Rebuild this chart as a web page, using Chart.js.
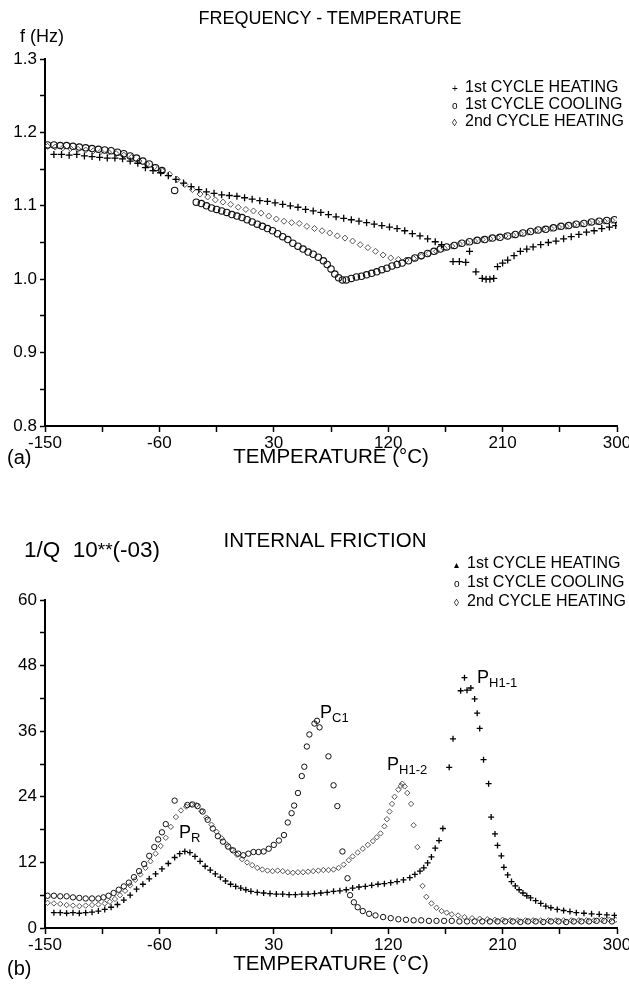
<!DOCTYPE html>
<html>
<head>
<meta charset="utf-8">
<script src="https://cdn.jsdelivr.net/npm/chart.js@4.4.1/dist/chart.umd.min.js"></script>
<style>
  html, body { margin: 0; padding: 0; width: 629px; height: 984px; overflow: hidden; background: #fff; }
  body { position: relative; font-family: "Liberation Sans", Arial, sans-serif; color: #000; }
  canvas { position: absolute; left: 0; }
  .t { position: absolute; white-space: nowrap; line-height: 1; }
  .c { transform: translateX(-50%); }
  .lg div { height: 17px; line-height: 17px; }
  .lgb div { height: 19px; line-height: 19px; }
  .sym { display: inline-block; width: 13px; font-size: 10px; line-height: 1; }
  sub { font-size: 13px; vertical-align: -4px; }
</style>
</head>
<body>
<canvas id="freqChart" width="660" height="500" style="top:0"></canvas>
<canvas id="lossChart" width="660" height="484" style="top:500px"></canvas>

<div class="t c" style="left:330px;top:9px;font-size:18px">FREQUENCY - TEMPERATURE</div>
<div class="t" style="left:20px;top:27px;font-size:18px">f (Hz)</div>
<div class="t lg" id="legendA" style="left:452px;top:78px;font-size:16px"></div>
<div class="t" style="left:7px;top:447px;font-size:20px">(a)</div>
<div class="t c" style="left:331px;top:446px;font-size:20.5px">TEMPERATURE (°C)</div>

<div class="t c" style="left:325px;top:530px;font-size:20.5px">INTERNAL FRICTION</div>
<div class="t" style="left:24px;top:539px;font-size:22.5px">1/Q&nbsp; 10<span style="font-size:19px;vertical-align:1px">**</span>(-03)</div>
<div class="t lgb" id="legendB" style="left:454px;top:553px;font-size:16px"></div>
<div class="t" style="left:7px;top:958px;font-size:20px">(b)</div>
<div class="t c" style="left:331px;top:953px;font-size:20.5px">TEMPERATURE (°C)</div>

<div class="t" style="left:179px;top:823px;font-size:18px">P<sub>R</sub></div>
<div class="t" style="left:320px;top:703px;font-size:18px">P<sub>C1</sub></div>
<div class="t" style="left:387px;top:755px;font-size:18px">P<sub>H1-2</sub></div>
<div class="t" style="left:477px;top:668px;font-size:18px">P<sub>H1-1</sub></div>

<script>
// series names
const seriesNames = ["1st CYCLE HEATING", "1st CYCLE COOLING", "2nd CYCLE HEATING"];

// tick labels
const tempTickLabels = ["-150", "-60", "30", "120", "210", "300"];
const freqTickLabels = ["0.8", "0.9", "1.0", "1.1", "1.2", "1.3"];
const lossTickLabels = ["0", "12", "24", "36", "48", "60"];

// (a) frequency, [temperature °C, f Hz]
const heat1Freq = [
  [-143,1.170],[-137,1.170],[-131,1.169],[-125,1.170],[-119,1.168],[-113,1.167],[-107,1.166],[-101,1.165],
  [-95,1.165],[-89,1.164],[-83,1.161],[-77,1.158],[-71,1.152],[-65,1.148],[-59,1.145],[-53,1.141],
  [-47,1.136],[-41,1.131],[-35,1.126],[-29,1.122],[-23,1.119],[-17,1.117],[-11,1.115],[-5,1.114],
  [1,1.113],[7,1.111],[13,1.109],[19,1.107],[25,1.106],[31,1.104],[37,1.102],[43,1.100],
  [49,1.098],[55,1.095],[61,1.093],[67,1.091],[73,1.088],[79,1.085],[85,1.083],[91,1.081],
  [97,1.079],[103,1.077],[109,1.075],[115,1.073],[121,1.071],[127,1.069],[133,1.066],[139,1.062],
  [145,1.059],[151,1.055],[157,1.051],[162,1.047],[171,1.024],[176,1.024],[181,1.023],[184,1.038],
  [189,1.010],[194,1.001],[197,1.000],[200,1.000],[203,1.001],[206,1.017],[210,1.022],[214,1.026],
  [219,1.032],[224,1.038],[229,1.041],[234,1.044],[240,1.047],[246,1.050],[252,1.052],[258,1.055],
  [264,1.058],[270,1.061],[276,1.064],[282,1.066],[288,1.069],[294,1.071],[299,1.073]
];
const coolFreq = [
  [-148,1.183],[-143,1.183],[-138,1.182],[-133,1.182],[-128,1.181],[-123,1.180],[-118,1.179],[-113,1.178],
  [-108,1.177],[-103,1.176],[-98,1.175],[-93,1.173],[-88,1.171],[-83,1.168],[-78,1.165],[-73,1.161],
  [-68,1.157],[-63,1.152],[-58,1.148],[-48,1.121],[-31,1.105],[-27,1.103],[-23,1.100],[-19,1.097],
  [-15,1.095],[-11,1.093],[-7,1.091],[-3,1.088],[1,1.086],[5,1.084],[9,1.081],[13,1.078],
  [17,1.075],[21,1.072],[25,1.069],[29,1.066],[33,1.062],[37,1.058],[41,1.054],[45,1.049],
  [49,1.045],[53,1.041],[57,1.037],[61,1.034],[65,1.030],[69,1.025],[72,1.020],[75,1.014],
  [78,1.007],[81,1.002],[84,0.999],[87,0.999],[91,1.001],[95,1.003],[99,1.004],[103,1.006],
  [107,1.008],[111,1.010],[115,1.013],[119,1.015],[123,1.018],[127,1.020],[131,1.022],[136,1.025],
  [141,1.029],[146,1.032],[151,1.035],[156,1.038],[161,1.041],[166,1.044],[172,1.046],[178,1.049],
  [184,1.051],[190,1.053],[196,1.054],[202,1.056],[208,1.057],[214,1.059],[220,1.061],[226,1.063],
  [232,1.065],[238,1.067],[244,1.068],[250,1.070],[256,1.072],[262,1.073],[268,1.075],[274,1.076],
  [280,1.078],[286,1.079],[292,1.080],[298,1.081]
];
const heat2Freq = [
  [-148,1.181],[-142,1.180],[-136,1.179],[-130,1.178],[-124,1.177],[-118,1.176],[-112,1.175],[-106,1.174],
  [-100,1.173],[-94,1.171],[-88,1.169],[-82,1.166],[-76,1.161],[-70,1.157],[-64,1.153],[-58,1.148],
  [-52,1.143],[-46,1.136],[-40,1.129],[-34,1.122],[-28,1.116],[-22,1.112],[-16,1.108],[-10,1.105],
  [-4,1.102],[2,1.098],[8,1.095],[14,1.093],[20,1.090],[26,1.086],[32,1.082],[38,1.079],
  [44,1.077],[50,1.076],[56,1.072],[62,1.069],[68,1.066],[74,1.063],[80,1.059],[86,1.056],
  [92,1.052],[98,1.047],[104,1.043],[110,1.038],[116,1.033],[122,1.029],[128,1.027],[134,1.026],
  [140,1.028],[146,1.031],[152,1.035],[158,1.038],[164,1.042],[170,1.045],[176,1.048],[182,1.050],
  [188,1.052],[194,1.054],[200,1.055],[206,1.057],[212,1.059],[218,1.060],[224,1.062],[230,1.064],
  [236,1.066],[242,1.068],[248,1.069],[254,1.071],[260,1.072],[266,1.074],[272,1.075],[278,1.077],
  [284,1.078],[290,1.079],[296,1.080]
];

// (b) internal friction, [temperature °C, 1/Q x 10^-3]
const heat1Loss = [
  [-143,2.8],[-138,2.8],[-133,2.7],[-128,2.8],[-123,2.7],[-118,2.8],[-113,2.9],[-108,3.1],
  [-103,3.4],[-98,3.8],[-93,4.3],[-88,5.1],[-83,6.0],[-78,7.1],[-73,8.0],[-68,9.0],
  [-63,9.9],[-58,10.8],[-53,11.8],[-48,12.9],[-44,13.6],[-40,14.0],[-36,13.8],[-32,13.1],
  [-28,12.2],[-24,11.3],[-20,10.6],[-16,9.9],[-12,9.3],[-8,8.6],[-4,8.0],[0,7.6],
  [4,7.3],[8,7.0],[12,6.7],[17,6.5],[22,6.4],[27,6.3],[32,6.2],[37,6.2],
  [42,6.1],[47,6.1],[52,6.2],[57,6.2],[62,6.3],[67,6.4],[72,6.5],[77,6.7],
  [82,6.8],[87,7.0],[92,7.3],[97,7.5],[102,7.6],[107,7.8],[112,8.0],[117,8.1],
  [122,8.3],[127,8.5],[132,8.8],[137,9.2],[141,9.8],[145,10.4],[148,11.0],[151,11.9],
  [154,13.0],[157,14.6],[160,16.0],[163,18.2],[168,29.4],[171,34.6],[177,43.4],[180,45.8],
  [182,43.5],[185,43.9],[188,41.9],[190,39.3],[192,36.5],[195,30.8],[199,26.4],[201,20.3],
  [204,17.2],[206,15.1],[209,13.2],[211,11.1],[214,9.7],[217,8.5],[220,7.7],[223,7.0],
  [226,6.4],[229,5.9],[232,5.5],[236,5.0],[240,4.5],[244,4.0],[248,3.7],[253,3.4],
  [258,3.2],[263,3.0],[268,2.8],[274,2.7],[280,2.6],[286,2.5],[292,2.4],[298,2.3]
];
const coolLoss = [
  [-148,5.9],[-143,5.9],[-138,5.8],[-133,5.8],[-128,5.6],[-123,5.5],[-118,5.4],[-113,5.4],
  [-108,5.4],[-104,5.6],[-100,5.9],[-96,6.4],[-92,7.0],[-88,7.6],[-84,8.3],[-80,9.3],
  [-76,10.4],[-72,11.7],[-68,13.2],[-64,14.8],[-61,16.2],[-58,17.5],[-55,19.0],[-48,23.3],
  [-38,22.5],[-34,22.6],[-30,22.3],[-26,21.3],[-22,19.8],[-18,18.2],[-14,16.8],[-10,15.8],
  [-6,14.9],[-2,14.2],[2,13.6],[6,13.3],[10,13.6],[14,13.9],[18,13.9],[22,14.0],
  [26,14.5],[30,15.2],[34,16.0],[38,17.0],[41,19.3],[44,21.0],[46,22.4],[49,24.7],
  [52,27.8],[54,29.5],[56,33.2],[58,35.4],[62,37.4],[64,37.9],[66,36.7],[73,31.4],
  [77,26.1],[80,22.3],[84,14.0],[88,9.1],[90,6.0],[93,4.7],[96,3.8],[100,3.1],
  [105,2.6],[110,2.3],[116,2.0],[122,1.8],[128,1.6],[134,1.5],[140,1.4],[146,1.4],
  [152,1.3],[158,1.3],[164,1.3],[170,1.3],[176,1.2],[182,1.2],[188,1.2],[194,1.2],
  [200,1.2],[206,1.2],[212,1.2],[218,1.2],[224,1.1],[230,1.2],[236,1.2],[242,1.1],
  [248,1.2],[254,1.2],[260,1.1],[266,1.2],[272,1.2],[278,1.2],[284,1.3],[290,1.3],[296,1.2]
];
const heat2Loss = [
  [-148,4.6],[-143,4.5],[-138,4.4],[-133,4.2],[-128,4.1],[-123,4.0],[-118,4.1],[-113,4.2],
  [-108,4.3],[-103,4.5],[-99,4.8],[-95,5.3],[-91,6.0],[-87,6.8],[-83,7.8],[-79,8.8],
  [-75,9.8],[-71,11.0],[-67,12.2],[-63,13.6],[-59,15.0],[-55,16.5],[-51,18.5],[-47,20.3],
  [-43,21.5],[-39,22.2],[-35,22.6],[-31,22.5],[-27,21.4],[-23,20.2],[-19,18.9],[-15,17.6],
  [-11,16.4],[-7,15.3],[-3,14.3],[1,13.4],[5,12.6],[9,12.0],[13,11.5],[17,11.0],
  [21,10.7],[25,10.5],[29,10.4],[33,10.5],[37,10.4],[41,10.2],[45,10.1],[49,10.2],
  [53,10.2],[57,10.3],[61,10.4],[65,10.5],[69,10.6],[73,10.6],[77,10.7],[81,11.0],
  [85,11.6],[89,12.4],[92,13.1],[96,13.8],[100,14.5],[104,15.2],[108,15.9],[111,16.6],
  [114,17.3],[117,18.6],[119,19.9],[121,21.3],[123,22.7],[125,24.0],[128,25.3],[130,26.0],
  [131,26.4],[133,25.9],[135,24.7],[138,22.7],[140,18.8],[143,14.8],[147,7.7],[150,5.7],
  [154,4.5],[158,3.7],[162,3.1],[166,2.8],[170,2.5],[175,2.3],[180,2.0],[186,1.8],
  [192,1.7],[198,1.6],[204,1.5],[210,1.5],[216,1.4],[222,1.4],[228,1.4],[234,1.4],
  [240,1.4],[246,1.4],[252,1.4],[258,1.4],[264,1.4],[270,1.4],[276,1.4],[282,1.4],
  [288,1.5],[294,1.5],[299,1.5]
];

const tickFont = { family: "'Liberation Sans', Arial, sans-serif", size: 17 };
const toXY = (pts) => pts.map(p => ({ x: p[0], y: p[1] }));

function tempAxis() {
  return {
    type: "linear", min: -150, max: 300,
    ticks: {
      stepSize: 45, autoSkip: false, maxRotation: 0, color: "#000", font: tickFont, padding: 1,
      callback: (v) => tempTickLabels.includes(String(Math.round(v))) ? String(Math.round(v)) : ""
    },
    grid: { drawOnChartArea: false, drawTicks: true, tickLength: 6, tickColor: "#000", tickWidth: 1.5 },
    border: { display: true, color: "#000", width: 2 },
    afterFit: (s) => { s.height = 30; }
  };
}

function valueAxis(min, max, step, labels, fmt) {
  return {
    type: "linear", min: min, max: max,
    ticks: {
      stepSize: step, autoSkip: false, color: "#000", font: tickFont, padding: 3,
      callback: (v) => { const s = fmt(v); return labels.includes(s) ? s : ""; }
    },
    grid: { drawOnChartArea: false, drawTicks: true, tickLength: 5, tickColor: "#000", tickWidth: 1.5 },
    border: { display: true, color: "#000", width: 2 },
    afterFit: (s) => { s.width = 45; }
  };
}

function makeChart(id, sets, yAxis, padTop, padBottom) {
  return new Chart(document.getElementById(id), {
    type: "scatter",
    data: { datasets: sets },
    options: {
      responsive: false,
      animation: false,
      layout: { padding: { top: padTop, left: 0, right: 43, bottom: padBottom } },
      plugins: { legend: { display: false }, tooltip: { enabled: false } },
      scales: { x: tempAxis(), y: yAxis }
    }
  });
}

const freqChart = makeChart("freqChart", [
  { label: seriesNames[0], data: toXY(heat1Freq), pointStyle: "cross", pointRadius: 3.5, borderColor: "#000", borderWidth: 1.3 },
  { label: seriesNames[1], data: toXY(coolFreq), pointStyle: "circle", pointRadius: 3.2, borderColor: "#111", backgroundColor: "rgba(255,255,255,0)", borderWidth: 1.1 },
  { label: seriesNames[2], data: toXY(heat2Freq), pointStyle: "rectRot", pointRadius: 3, borderColor: "#555", backgroundColor: "rgba(255,255,255,0)", borderWidth: 1 }
], valueAxis(0.8, 1.3, 0.05, freqTickLabels, (v) => { const s = v.toFixed(2); return s.endsWith("0") ? s.slice(0, -1) : s; }), 59, 44);

const lossChart = makeChart("lossChart", [
  { label: seriesNames[0], data: toXY(heat1Loss), pointStyle: "cross", pointRadius: 3, borderColor: "#000", borderWidth: 1.3 },
  { label: seriesNames[1], data: toXY(coolLoss), pointStyle: "circle", pointRadius: 2.7, borderColor: "#111", backgroundColor: "rgba(255,255,255,0)", borderWidth: 1 },
  { label: seriesNames[2], data: toXY(heat2Loss), pointStyle: "rectRot", pointRadius: 2.7, borderColor: "#555", backgroundColor: "rgba(255,255,255,0)", borderWidth: 1 }
], valueAxis(0, 60, 6, lossTickLabels, (v) => String(Math.round(v))), 100, 26);

// legends
const symbolsA = ["+", "o", "\u25CA"];
const symbolsB = ["\u25B4", "o", "\u25CA"];
document.getElementById("legendA").innerHTML = seriesNames.map((n, i) =>
  '<div><span class="sym">' + symbolsA[i] + "</span>" + n + "</div>").join("");
document.getElementById("legendB").innerHTML = seriesNames.map((n, i) =>
  '<div><span class="sym">' + symbolsB[i] + "</span>" + n + "</div>").join("");
</script>
</body>
</html>
